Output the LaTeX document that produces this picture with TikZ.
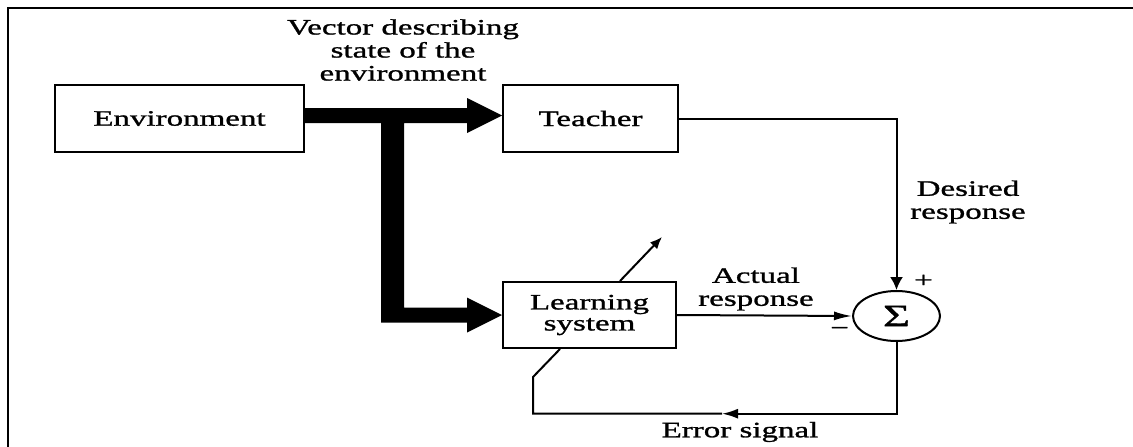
\documentclass[tikz,border=0pt]{standalone}
\usepackage{fontspec}
\setmainfont{Liberation Serif}[FakeStretch=1.5,FakeBold=1.2]
\usetikzlibrary{arrows.meta,shapes.geometric,calc}

\begin{document}
\begin{tikzpicture}[x=1pt,y=-1pt,
  txt/.style={font=\fontsize{22}{23}\selectfont},
  blk/.style={txt,draw,line width=2pt,rectangle,inner sep=0pt,minimum height=67pt},
  lbl/.style={txt,align=center,inner sep=0pt},
  sumnode/.style={draw,line width=2pt,ellipse,inner sep=0pt,minimum width=87pt,minimum height=50pt,font=\fontsize{31}{31}\selectfont},
  wire/.style={line width=2pt},
  frameline/.style={line width=2.5pt},
]
\useasboundingbox (0,0) rectangle (1133,447);

% frame edges
\draw[frameline] (8,447) -- (8,8) -- (1133,8);

% blocks
\node[blk,minimum width=249pt] (env)   at (179.5,118.5) {Environment};
\node[blk,minimum width=175pt] (teach) at (590.5,118.5) {Teacher};
\node[blk,minimum width=173pt,minimum height=66pt,align=center] (learn) at (589.5,315) {Learning\\[-2pt]system};
\node[sumnode] (sig) at (896.5,316) {Σ};

% wide vector bus from the environment to teacher and learning system
\coordinate (tipT) at ([yshift=3pt]teach.west);
\coordinate (tipL) at (learn.west);
\coordinate (jn) at (392.5,0);
\fill ($(env.east|-tipT)+(0,-7.5)$) -- ($(tipT)+(-35,-7.5)$) -- ($(tipT)+(-35,-17.5)$)
  -- (tipT) -- ($(tipT)+(-35,17.5)$) -- ($(tipT)+(-35,7.5)$)
  -- ($(jn|-tipT)+(11.5,7.5)$) -- ($(jn|-tipL)+(11.5,-7.5)$)
  -- ($(tipL)+(-35,-7.5)$) -- ($(tipL)+(-35,-17.5)$) -- (tipL)
  -- ($(tipL)+(-35,17.5)$) -- ($(tipL)+(-35,7.5)$)
  -- ($(jn|-tipL)+(-11.5,7.5)$) -- ($(jn|-tipT)+(-11.5,7.5)$)
  -- ($(env.east|-tipT)+(0,7.5)$) -- cycle;

% desired and actual responses
\draw[wire,-{Latex[length=13pt,width=13pt]}] (teach.east) -| (sig.north);
\draw[wire,-{Latex[length=18pt,width=9pt]}] (learn.east) -- (sig.west);

% error feedback
\coordinate (errtip) at (722,413.7);
\coordinate (fb1) at (533,413.7);
\coordinate (fb2) at (533,377);
\draw[wire,-{Latex[length=16pt,width=10pt]}] (sig.south) |- (errtip);
\draw[wire] (errtip) -- (fb1) -- (fb2) -- ([xshift=-29.5pt]learn.south);

% adjustment arrow across the learning system
\coordinate (adj) at (662,237);
\draw[wire,-{Latex[length=12pt,width=10pt]}] ([xshift=30.5pt]learn.north) -- (adj);

% labels
\node[lbl] (lvec) at (403,50) {Vector describing\\state of the\\environment};
\node[lbl] (ldes) at (968,202) {Desired\\response};
\node[lbl] (lact) at (756,289) {Actual\\response};
\node[lbl] (lerr) at (740,432) {Error signal};
\node[lbl] (lplus) at (923.5,281) {+};
\node[lbl] (lminus) at (839.6,331) {−};
\end{tikzpicture}
\end{document}
